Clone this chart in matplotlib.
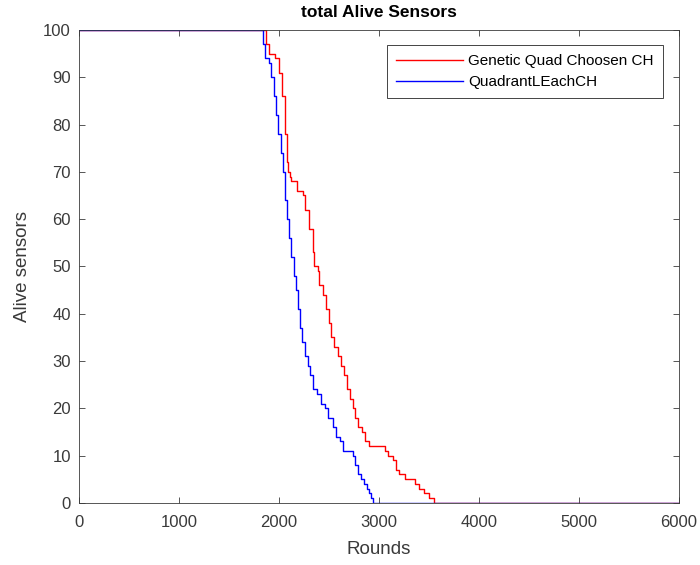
import numpy as np
import matplotlib
matplotlib.use("Agg")
import matplotlib.pyplot as plt

plt.rcParams['font.family'] = ['Liberation Sans', 'DejaVu Sans']

# rounds at which the alive count changes (step data)
genetic_rounds = [0, 1850, 1870, 1900, 1960, 2000, 2030, 2060, 2080, 2090, 2110, 2120, 2180,
                  2240, 2260, 2300, 2340, 2350, 2390, 2400, 2440, 2470, 2500, 2520, 2550,
                  2590, 2620, 2650, 2680, 2710, 2740, 2760, 2790, 2830, 2860, 2900, 3060,
                  3090, 3140, 3170, 3200, 3260, 3360, 3400, 3450, 3500, 3550, 6000]
genetic_alive = [100, 100, 97, 95, 94, 91, 86, 78, 72, 70, 69, 68, 66,
                 65, 62, 58, 53, 50, 49, 46, 44, 41, 38, 35, 33,
                 31, 29, 27, 24, 22, 20, 18, 16, 15, 13, 12, 11,
                 10, 9, 7, 6, 5, 4, 3, 2, 1, 0, 0]

quad_rounds = [0, 1820, 1840, 1860, 1900, 1920, 1950, 1970, 1990, 2020, 2040, 2060, 2080,
               2100, 2120, 2150, 2170, 2190, 2210, 2230, 2260, 2290, 2310, 2340, 2380,
               2420, 2460, 2490, 2540, 2570, 2610, 2640, 2740, 2760, 2790, 2820, 2850,
               2880, 2900, 2920, 2940, 6000]
quad_alive = [100, 100, 97, 94, 93, 90, 86, 82, 78, 74, 70, 64, 60,
              56, 52, 48, 45, 41, 37, 34, 31, 29, 27, 24, 23,
              21, 20, 18, 16, 14, 13, 11, 10, 8, 6, 5, 4,
              3, 2, 1, 0, 0]

series_names = ['Genetic Quad Choosen CH', 'QuadrantLEachCH']

fig = plt.figure(figsize=(7, 5.65), dpi=100)
ax = fig.add_axes([0.113, 0.110, 0.857, 0.837])

ax.plot(genetic_rounds, genetic_alive, color='#ff0000', lw=1.0, drawstyle='steps-post', label=series_names[0])
ax.plot(quad_rounds, quad_alive, color='#0000ff', lw=1.0, drawstyle='steps-post', label=series_names[1])

ax.set_xlim(0, 6000)
ax.set_ylim(0, 100)
ax.set_xticks(np.arange(0, 6001, 1000))
ax.set_yticks(np.arange(0, 101, 10))
ax.tick_params(direction='in', top=True, right=True, labelsize=12, colors='#3a3a3a', length=4, width=0.6)
ax.tick_params(axis='x', pad=9)
ax.tick_params(axis='y', pad=6)
for s in ax.spines.values():
    s.set_color('#3a3a3a')
    s.set_linewidth(0.6)

ax.set_xlabel('Rounds', fontsize=13.5, color='#3a3a3a', labelpad=8)
ax.set_ylabel('Alive sensors', fontsize=13.5, color='#3a3a3a', labelpad=9)
ax.set_title('total Alive Sensors', fontsize=12.5, fontweight='bold', color='#000000', pad=9)

leg = ax.legend(loc='upper right', bbox_to_anchor=(0.978, 0.975), fontsize=11, fancybox=False,
                framealpha=1, edgecolor='#262626', handlelength=4.4, borderpad=0.6,
                labelspacing=0.45, handletextpad=0.3, borderaxespad=0.2)
leg.get_frame().set_linewidth(0.6)

fig.savefig('out.png', dpi=100)
